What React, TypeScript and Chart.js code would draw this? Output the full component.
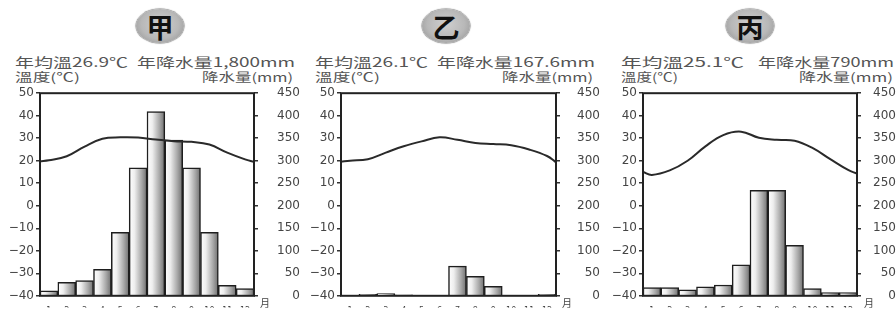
import React, { useEffect, useLayoutEffect, useRef } from 'react';
import { Chart, registerables } from 'chart.js';

Chart.register(...registerables);

// ---- data ----
const months = ['1', '2', '3', '4', '5', '6', '7', '8', '9', '10', '11', '12'];
// temperature curve: value at left edge, 12 month centres, value at right edge
const tempPositions = [0, 0.5, 1.5, 2.5, 3.5, 4.5, 5.5, 6.5, 7.5, 8.5, 9.5, 10.5, 11.5, 12];

const jiaRain = [11, 30, 34, 59, 141, 284, 409, 346, 284, 141, 23, 16];
const jiaTemp = [19.8, 20.2, 22, 26.3, 29.8, 30.4, 30.3, 29.4, 28.7, 28.4, 27.2, 23.6, 20.6, 19.5];

const yiRain = [1, 3, 5, 2, 0, 1, 66, 43, 21, 0, 1, 3];
const yiTemp = [19.6, 20, 20.7, 23.6, 26.4, 28.6, 30.4, 29.3, 27.9, 27.4, 26.9, 25, 22.1, 19.3];

const bingRain = [18, 18, 13, 20, 24, 69, 234, 234, 112, 16, 7, 7];
const bingTemp = [15, 13.7, 15.7, 20, 26.4, 31.4, 32.9, 30.2, 29.3, 28.9, 25.7, 20.7, 15.9, 14.3];

const titles = ['甲', '乙', '丙'];
const tempTexts = ['年均溫26.9℃', '年均溫26.1℃', '年均溫25.1℃'];
const rainTexts = ['年降水量1,800mm', '年降水量167.6mm', '年降水量790mm'];
const leftAxisTitle = '溫度(℃)';
const rightAxisTitle = '降水量(mm)';
const monthUnit = '月';

const tempMin = -40;
const tempMax = 50;
const tempStep = 10;
const rainMin = 0;
const rainMax = 450;
const rainStep = 50;

// ---- layout (styles only) ----
const CJK = '"Noto Sans CJK TC", "Noto Sans CJK SC", sans-serif';
const NUM = '"DejaVu Sans", sans-serif';
const CANVAS_TOP = 80;
const CANVAS_H = 229;

const panels = [
  { rain: jiaRain, temp: jiaTemp, x0: 0, w: 300, leftW: 40, rightW: 46, badgeX: 160,
    aX: 15, aW: 113, bX: 137, bW: 158, lX: 15, lW: 65, rX: 202, rW: 91, unitX: 260 },
  { rain: yiRain, temp: yiTemp, x0: 300, w: 300, leftW: 41, rightW: 44, badgeX: 446,
    aX: 315, aW: 113, bX: 437, bW: 158, lX: 315, lW: 65, rX: 502, rW: 91, unitX: 562 },
  { rain: bingRain, temp: bingTemp, x0: 600, w: 296, leftW: 43, rightW: 39, badgeX: 750,
    aX: 621, aW: 123, bX: 758, bW: 136, lX: 621, lW: 57, rX: 799, rW: 94, unitX: 864 },
];

function FitText({ x, y, w, size, text, color = '#555' }: any) {
  const ref = useRef<HTMLSpanElement>(null);
  useLayoutEffect(() => {
    const el = ref.current;
    if (!el) return;
    el.style.transform = 'none';
    const nat = el.getBoundingClientRect().width;
    if (nat > 0) el.style.transform = `scaleX(${w / nat})`;
  }, [w, text]);
  return (
    <span
      ref={ref}
      style={{
        position: 'absolute', left: x, top: y - size / 2, fontSize: size, lineHeight: `${size}px`,
        whiteSpace: 'nowrap', transformOrigin: '0 50%', color, fontFamily: CJK, display: 'inline-block',
      }}
    >
      {text}
    </span>
  );
}

const framePlugin = {
  id: 'frame',
  afterDraw(chart: any) {
    const { ctx, chartArea: a } = chart;
    ctx.save();
    ctx.strokeStyle = '#222';
    ctx.lineWidth = 2;
    ctx.strokeRect(a.left, a.top, a.right - a.left, a.bottom - a.top);
    ctx.restore();
  },
};

function Panel({ p }: any) {
  const ref = useRef<HTMLCanvasElement>(null);
  useEffect(() => {
    const canvas = ref.current;
    if (!canvas) return;
    const plotW = p.w - p.leftW - p.rightW;
    const barFill = (ctx: any) => {
      const chart = ctx.chart;
      const xs = chart.scales && chart.scales.x;
      if (!xs || ctx.dataIndex === undefined || !isFinite(xs.width) || xs.width <= 0) return '#ccc';
      const c = xs.getPixelForValue(ctx.dataIndex);
      const bw = xs.width / months.length;
      const g = chart.ctx.createLinearGradient(c - bw / 2, 0, c + bw / 2, 0);
      g.addColorStop(0, '#ffffff');
      g.addColorStop(0.3, '#eeeeee');
      g.addColorStop(0.7, '#a8a8a8');
      g.addColorStop(1, '#6e6e6e');
      return g;
    };
    const tickFont = { family: NUM, size: 12 };
    const chart = new Chart(canvas, {
      type: 'bar',
      data: {
        labels: months,
        datasets: [
          {
            type: 'line',
            data: p.temp.map((v: number, i: number) => ({ x: tempPositions[i], y: v })),
            xAxisID: 'xL',
            yAxisID: 'yT',
            borderColor: '#2a2a2a',
            borderWidth: 2,
            pointRadius: 0,
            tension: 0.4,
            fill: false,
            order: 0,
          },
          {
            type: 'bar',
            data: p.rain,
            xAxisID: 'x',
            yAxisID: 'yR',
            backgroundColor: barFill,
            borderColor: '#1e1e1e',
            borderWidth: 1.5,
            barThickness: plotW / months.length,
            grouped: false,
            order: 1,
          },
        ],
      } as any,
      options: {
        animation: false,
        responsive: false,
        maintainAspectRatio: false,
        devicePixelRatio: 1,
        layout: { padding: { top: 10, left: 0, right: 0, bottom: 0 } },
        plugins: { legend: { display: false }, tooltip: { enabled: false }, title: { display: false } },
        scales: {
          x: {
            type: 'category',
            offset: true,
            grid: { display: false },
            border: { display: false },
            ticks: { font: { family: NUM, size: 8 }, color: '#444', padding: 2, maxRotation: 0, autoSkip: false },
            afterFit: (s: any) => { s.height = 12; },
          },
          xL: {
            type: 'linear',
            min: 0,
            max: months.length,
            offset: false,
            grid: { offset: false },
            display: false,
          },
          yT: {
            type: 'linear',
            position: 'left',
            min: tempMin,
            max: tempMax,
            ticks: {
              stepSize: tempStep,
              font: tickFont,
              color: '#444',
              padding: 2,
              callback: (v: any) => (v < 0 ? '−' + Math.abs(v) : String(v)),
            },
            grid: { drawOnChartArea: false, tickLength: 4, color: '#333', lineWidth: 1.5 },
            border: { display: false },
            afterFit: (s: any) => { s.width = p.leftW; },
          },
          yR: {
            type: 'linear',
            position: 'right',
            min: rainMin,
            max: rainMax,
            ticks: { stepSize: rainStep, font: tickFont, color: '#444', padding: 6, crossAlign: 'far' },
            grid: { drawOnChartArea: false, tickLength: 4, color: '#333', lineWidth: 1.5 },
            border: { display: false },
            afterFit: (s: any) => { s.width = p.rightW; },
          },
        },
      } as any,
      plugins: [framePlugin],
    });
    return () => chart.destroy();
  }, [p]);
  return (
    <canvas
      ref={ref}
      width={p.w}
      height={CANVAS_H}
      style={{ position: 'absolute', left: p.x0, top: CANVAS_TOP, width: p.w, height: CANVAS_H }}
    />
  );
}

function Badge({ cx, cy, text }: any) {
  const w = 48;
  const h = 34;
  return (
    <div
      style={{
        position: 'absolute', left: cx - w / 2, top: cy - h / 2, width: w, height: h, borderRadius: '50%',
        background: 'radial-gradient(ellipse at 50% 45%, #cfcfcf 0%, #b8b8b8 55%, #8c8c8c 100%)',
        boxShadow: '0 0 1px 0.5px #777',
        display: 'flex', alignItems: 'center', justifyContent: 'center',
        fontFamily: CJK, fontSize: 27, fontWeight: 700, color: '#111', lineHeight: '27px',
      }}
    >
      {text}
    </div>
  );
}

export default function App() {
  return (
    <div
      style={{
        position: 'absolute', left: 0, top: 0, width: 896, height: 309, background: '#fff', overflow: 'hidden',
      }}
    >
      {panels.map((p, i) => (
        <React.Fragment key={i}>
          <Badge cx={p.badgeX} cy={26} text={titles[i]} />
          <FitText x={p.aX} y={61} w={p.aW} size={13} text={tempTexts[i]} />
          <FitText x={p.bX} y={61} w={p.bW} size={13} text={rainTexts[i]} />
          <FitText x={p.lX} y={77} w={p.lW} size={12} text={leftAxisTitle} />
          <FitText x={p.rX} y={77} w={p.rW} size={12} text={rightAxisTitle} />
          <Panel p={p} />
          <span
            style={{
              position: 'absolute', left: p.unitX, top: 298, fontSize: 10, lineHeight: '10px',
              fontFamily: CJK, color: '#444',
            }}
          >
            {monthUnit}
          </span>
        </React.Fragment>
      ))}
    </div>
  );
}
